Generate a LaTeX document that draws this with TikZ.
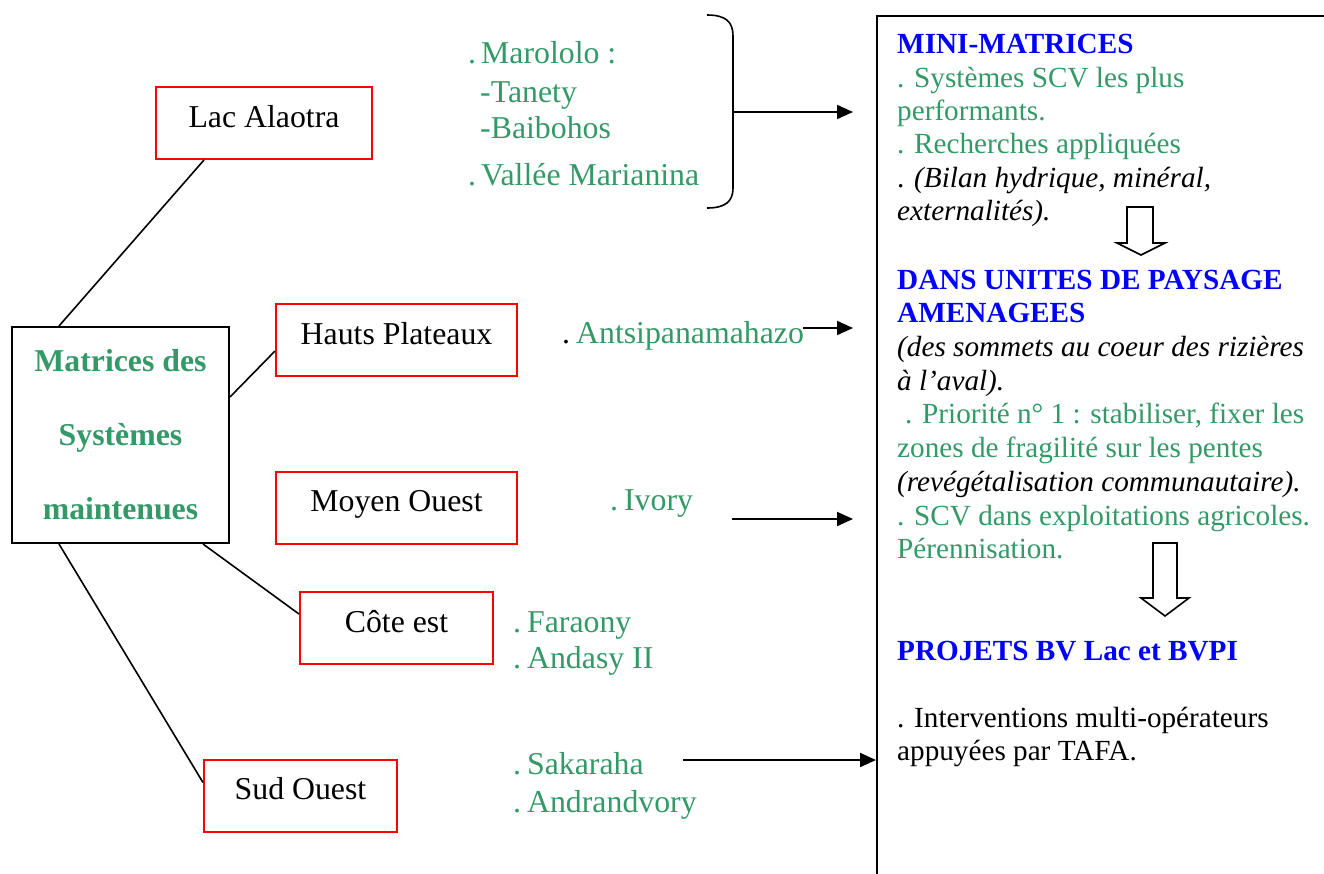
\documentclass[tikz,border=0pt]{standalone}
\usepackage{fontspec}
\setmainfont{Liberation Serif}
\usetikzlibrary{arrows.meta,calc}
\definecolor{sgreen}{RGB}{51,153,102}
\definecolor{pblue}{RGB}{0,0,255}
\definecolor{pred}{RGB}{255,0,0}
\begin{document}
\begin{tikzpicture}[x=1pt,y=-1pt,
  rtxt/.style={anchor=base west,inner sep=0pt,font=\fontsize{29.2}{33.6}\selectfont},
  gtxt/.style={anchor=base west,inner sep=0pt,font=\fontsize{31.8}{36}\selectfont,text=sgreen},
  redbox/.style={draw=pred,line width=2pt,inner sep=0pt,minimum height=72pt,text height=40pt,text depth=32pt,font=\fontsize{31.8}{36}\selectfont},
  conn/.style={line width=1.6pt},
  arr/.style={line width=2pt,-{Triangle[length=16pt,width=14pt]}},
  hollow/.style={line width=1.6pt,line join=miter,fill=white}]
\useasboundingbox (0,0) rectangle (1324,873);
\clip (0,0) rectangle (1324,873);

% main box
\node[draw,line width=2pt,minimum width=217pt,minimum height=216pt,inner sep=0pt,align=center,text=sgreen,font=\fontsize{31.8}{74}\selectfont\bfseries] (main) at (120.5,435) {Matrices des\\Syst\`emes\\maintenues};

% red boxes
\node[redbox,minimum width=216pt] (lac) at (264,123) {Lac Alaotra};
\node[redbox,minimum width=241pt] (hauts) at (396.5,340) {Hauts Plateaux};
\node[redbox,minimum width=241pt] (moyen) at (396.5,507.5) {Moyen Ouest};
\node[redbox,minimum width=193pt] (cote) at (396.5,628) {C\^ote est};
\node[redbox,minimum width=193pt] (sud) at (300.5,795.5) {Sud Ouest};

% connectors
\draw[conn] ($(main.north west)+(48,0)$) -- ($(lac.south west)+(49,0)$);
\draw[conn] ($(main.north east)+(0,71)$) -- ($(hauts.north west)+(0,48)$);
\draw[conn] ($(main.south west)+(192,0)$) -- ($(cote.north west)+(0,23)$);
\draw[conn] ($(main.south west)+(48,0)$) -- ($(sud.north west)+(0,24)$);

% right big box
\node[draw,line width=2pt,minimum width=520pt,minimum height=900pt,inner sep=0pt,anchor=north west] (rbox) at (876,15) {};

% green site lists
\node[gtxt] (g1) at (468,63) {.\hspace{5pt}Marololo :};
\node[gtxt] (g2) at (480,102) {-Tanety};
\node[gtxt] (g3) at (480,138) {-Baibohos};
\node[gtxt] (g4) at (468,185) {.\hspace{5pt}Vall\'ee Marianina};
\node[gtxt] (g5) at (562,343) {{\color{black}.}\hspace{6pt}Antsipanamahazo};
\node[gtxt] (g6) at (610,510) {.\hspace{6pt}Ivory};
\node[gtxt] (g7) at (513,632) {.\hspace{6pt}Faraony};
\node[gtxt] (g8) at (513,668) {.\hspace{6pt}Andasy II};
\node[gtxt] (g9) at (513,774) {.\hspace{6pt}Sakaraha};
\node[gtxt] (g10) at (513,812) {.\hspace{6pt}Andrandvory};

% brace
\draw[conn] (707,15) .. controls (726,15) and (733,22) .. (733,36) -- (733,188) .. controls (733,201) and (726,208) .. (707,208);
\coordinate (bm) at (733,112);
\coordinate (t1) at (853,112);
\coordinate (s2) at (803,328);
\coordinate (t2) at (853,328);
\coordinate (s3) at (732,519);
\coordinate (t3) at (853,519);
\coordinate (s4) at (683,760);
\draw[arr] (bm) -- (t1);
\draw[arr] (s2) -- (t2);
\draw[arr] (s3) -- (t3);
\draw[arr] (s4) -- (s4 -| rbox.west);

% right box text
\node[rtxt,text=pblue,font=\fontsize{29.2}{33.6}\selectfont\bfseries] (r1) at (897,53) {MINI-MATRICES};
\node[rtxt,text=sgreen] (r2) at (897,87) {. Syst\`emes SCV les plus};
\node[rtxt,text=sgreen] (r3) at (897,120) {performants.};
\node[rtxt,text=sgreen] (r4) at (897,153) {. Recherches appliqu\'ees};
\node[rtxt] (r5) at (897,187) {. \textit{(Bilan hydrique, min\'eral,}};
\node[rtxt] (r6) at (897,220) {\textit{externalit\'es).}};
\node[rtxt,text=pblue,font=\fontsize{29.2}{33.6}\selectfont\bfseries] (r7) at (897,289) {DANS UNITES DE PAYSAGE};
\node[rtxt,text=pblue,font=\fontsize{29.2}{33.6}\selectfont\bfseries] (r8) at (897,322) {AMENAGEES};
\node[rtxt] (r9) at (897,356) {\textit{(des sommets au coeur des rizi\`eres}};
\node[rtxt] (r10) at (897,390) {\textit{\`a l’aval).}};
\node[rtxt,text=sgreen] (r11) at (905,423) {. Priorit\'e n° 1 : stabiliser, fixer les};
\node[rtxt,text=sgreen] (r12) at (897,457) {zones de fragilit\'e sur les pentes};
\node[rtxt] (r13) at (897,491) {\textit{(rev\'eg\'etalisation communautaire).}};
\node[rtxt,text=sgreen] (r14) at (897,525) {. SCV dans exploitations agricoles.};
\node[rtxt,text=sgreen] (r15) at (897,558) {P\'erennisation.};
\node[rtxt,text=pblue,font=\fontsize{29.2}{33.6}\selectfont\bfseries] (r16) at (897,660) {PROJETS BV Lac et BVPI};
\node[rtxt] (r17) at (897,727) {. Interventions multi-op\'erateurs};
\node[rtxt] (r18) at (897,760) {appuy\'ees par TAFA.};

% hollow down arrows
\draw[hollow] (1127,207) -- (1153,207) -- (1153,243) -- (1165,243) -- (1141,255) -- (1117,243) -- (1127,243) -- cycle;
\draw[hollow] (1153,543) -- (1177,543) -- (1177,598) -- (1189,598) -- (1165,616) -- (1141,598) -- (1153,598) -- cycle;
\end{tikzpicture}
\end{document}
